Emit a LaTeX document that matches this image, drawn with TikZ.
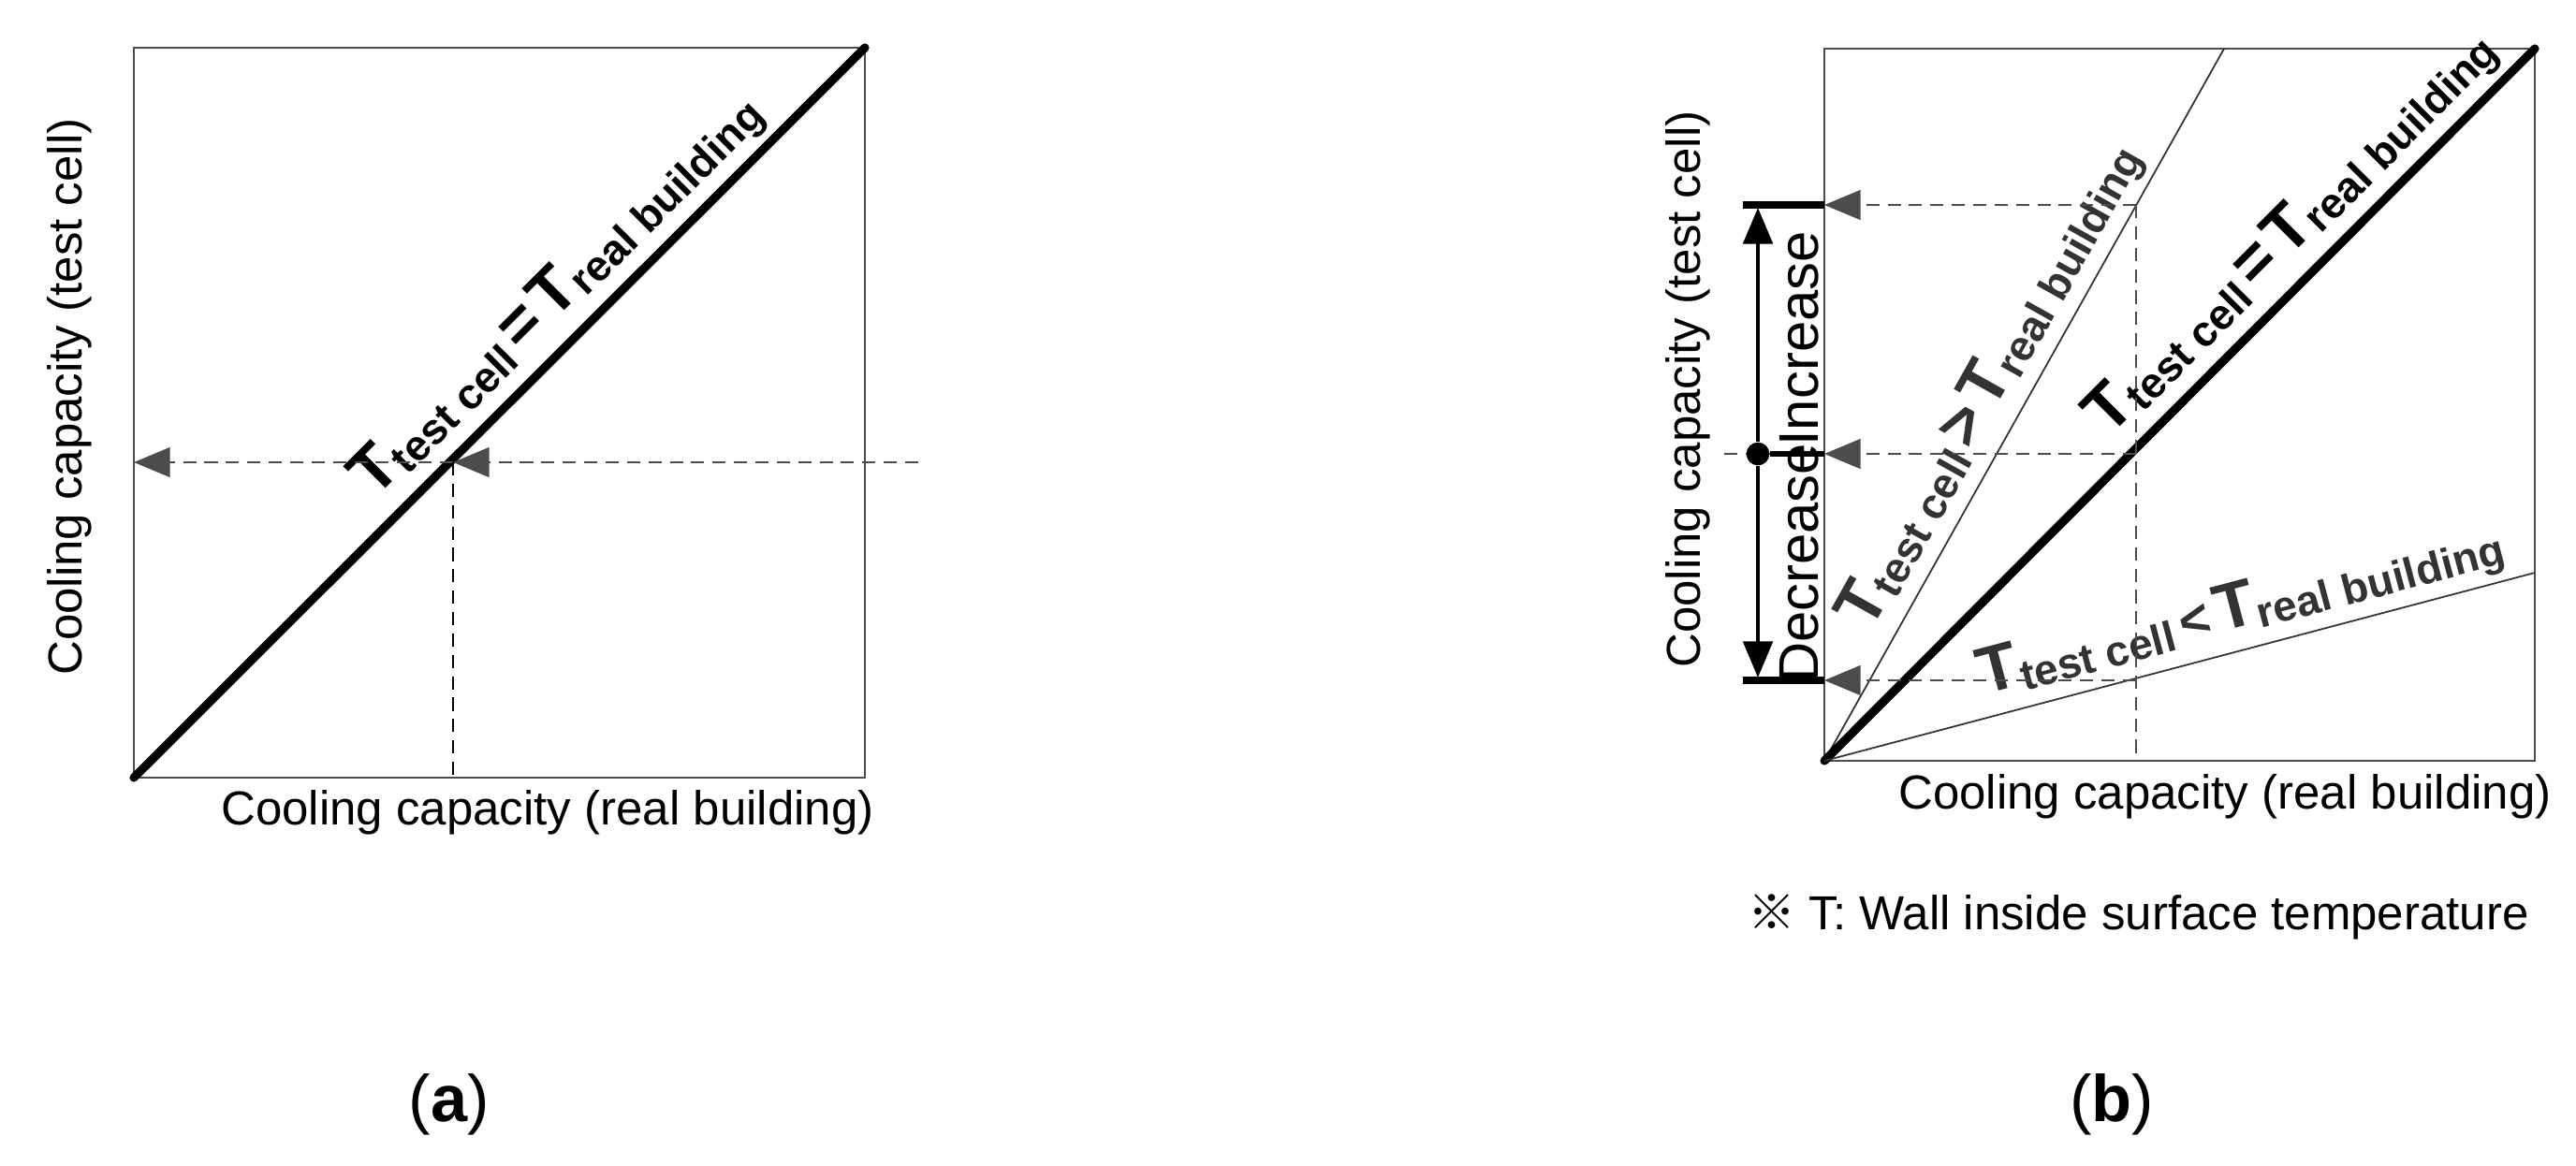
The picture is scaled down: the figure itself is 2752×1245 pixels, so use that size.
\documentclass[tikz,border=0pt]{standalone}
\usepackage{fontspec}
\setmainfont{Liberation Sans}
\newfontfamily\cjkf{Noto Sans CJK SC}
\usetikzlibrary{arrows.meta}
\begin{document}
\begin{tikzpicture}[x=0.01cm,y=-0.01cm,
  box/.style={draw=black!70,line width=0.8pt},
  thick line/.style={line width=2.6pt,line cap=round},
  thin line/.style={line width=0.5pt,black!80},
  dsh/.style={black!70,line width=0.8pt,dash pattern=on 4pt off 2.5pt},
  tip/.style={-{Triangle[length=11pt,width=9pt]}},
  ax/.style={font=\fontsize{14.5}{16}\selectfont},
  lab/.style={font=\bfseries\fontsize{13}{14}\selectfont,inner sep=2pt}]
\useasboundingbox (0,0) rectangle (2752,1245);
\newcommand{\TT}[1]{{\fontsize{20}{20}\selectfont T}\raisebox{-2pt}{#1}}
% ---------- (a)
\coordinate (a0) at (143,831);
\coordinate (a1) at (924,51);
\coordinate (ai) at (484,494);
\coordinate (aL) at (143,494);
\coordinate (aR) at (981,494);
\coordinate (aB) at (484,831);
\draw[box] (a0) rectangle (a1);
\draw[thick line] (a0) -- node[pos=0.62,above,sloped,lab]{\TT{test cell}\,{\fontsize{20}{20}\selectfont =}\,\TT{real building}} (a1);
\draw[dsh,tip] (ai) -- (aL);
\draw[dsh,tip] (aR) -- (ai);
\draw[dsh,black] (ai) -- (aB);
\node[ax,rotate=90] (ya) at (74,424) {Cooling capacity (test cell)};
\node[ax] (xa) at (585,868) {Cooling capacity (real building)};
\node[font=\fontsize{20}{22}\selectfont\rmfamily] (la) at (480,1180) {(\textbf{a})};
% ---------- (b)
\coordinate (b0) at (1949,813);
\coordinate (b1) at (2708,52);
\coordinate (bS) at (2376,52);
\coordinate (bF) at (2708,612);
\draw[box] (b0) rectangle (b1);
\draw[thin line] (b0) -- node[pos=0.5,above,sloped,lab]{\TT{test cell}\,{\fontsize{20}{20}\selectfont >}\,\TT{real building}} (bS);
\draw[thick line] (b0) -- node[pos=0.7,above,sloped,lab]{\TT{test cell}\,{\fontsize{20}{20}\selectfont =}\,\TT{real building}} (b1);
\draw[thin line] (b0) -- node[pos=0.6,above,sloped,lab]{\TT{test cell}\,{\fontsize{16}{16}\selectfont <}\,\TT{real building}} (bF);
\coordinate (vT) at (2282,219);
\coordinate (vM) at (2282,485);
\coordinate (vB) at (2282,727);
\coordinate (vO) at (2282,813);
\coordinate (eT) at (1949,219);
\coordinate (eM) at (1949,485);
\coordinate (eB) at (1949,727);
\draw[dsh] (vT) -- (vO);
\draw[dsh,tip] (vT) -- (eT);
\draw[dsh,tip] (vM) -- (eM);
\draw[dsh,tip] (vB) -- (eB);
\coordinate (mS) at (1842,485);
\draw[dsh] (mS) -- (eM);
\coordinate (bT1) at (1862,219);
\coordinate (bB1) at (1862,727);
\draw[line width=2pt] (bT1) -- (eT);
\draw[line width=2pt] (bB1) -- (eB);
\node[circle,fill=black,inner sep=0pt,minimum size=7pt] (dot) at (1878,485) {};
\draw[line width=1.6pt] (dot) -- (eM);
\coordinate (aT) at (1878,222); \coordinate (aBt) at (1878,724);
\draw[line width=1pt,tip] (dot) -- (aT);
\draw[line width=1pt,tip] (dot) -- (aBt);
\node[rotate=90,font=\fontsize{17}{18}\selectfont] (inc) at (1922,362) {Increase};
\node[rotate=90,font=\fontsize{17}{18}\selectfont] (dec) at (1922,602) {Decrease};
\node[ax,rotate=90] (yb) at (1803,416) {Cooling capacity (test cell)};
\node[ax] (xb) at (2377,851) {Cooling capacity (real building)};
\node[ax,anchor=west] (note) at (1855,980) {{\cjkf ※}\ T: Wall inside surface temperature};
\node[font=\fontsize{20}{22}\selectfont\rmfamily] (lb) at (2256,1180) {(\textbf{b})};
\end{tikzpicture}
\end{document}
